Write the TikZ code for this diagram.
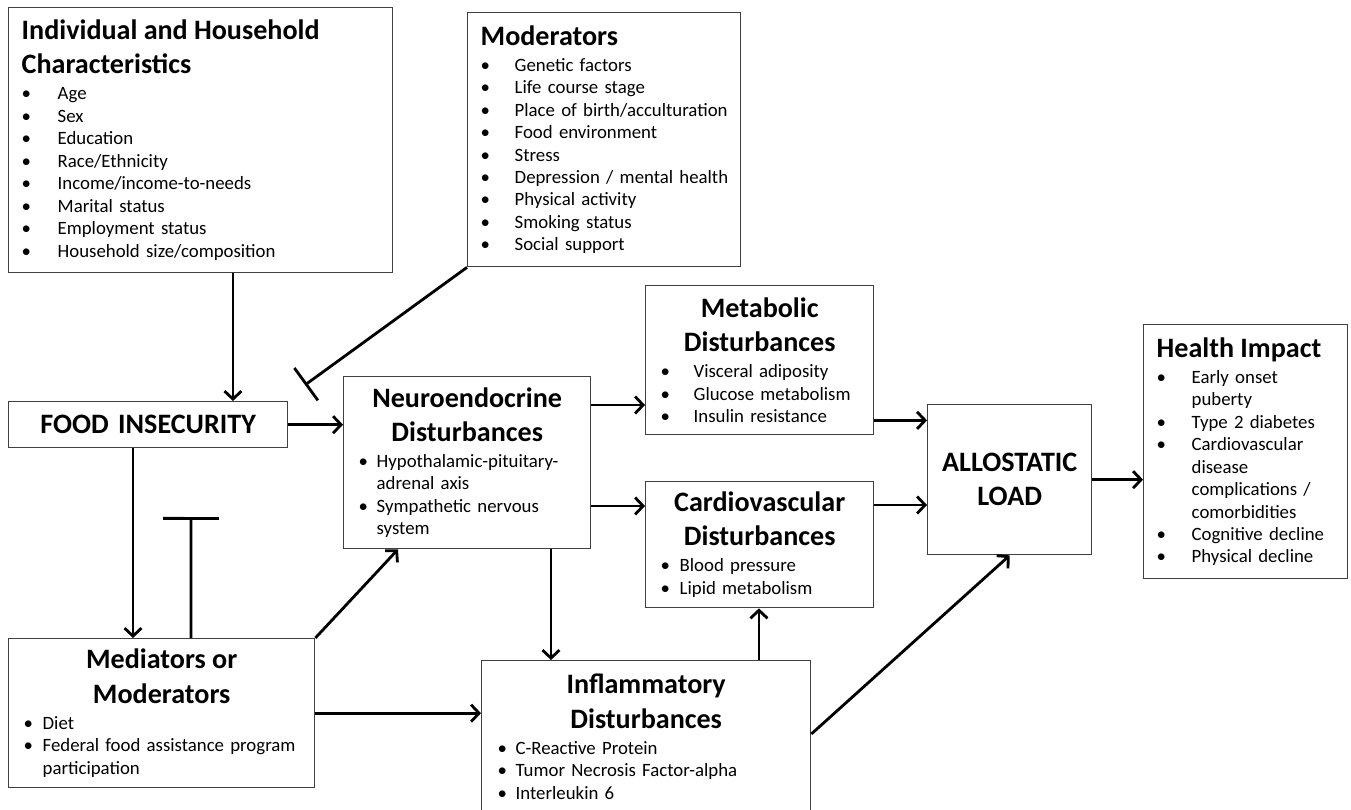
\documentclass[tikz,border=0pt]{standalone}
\usepackage{fontspec}
\setmainfont{Carlito}
\usepackage{tikz}
\usetikzlibrary{positioning}
\usetikzlibrary{arrows.meta}

\newlength{\bi}
\newcommand{\hd}{\fontsize{16}{19.5}\selectfont\bfseries}
\newcommand{\bd}{\fontsize{10.7}{12.8}\selectfont}
\newcommand{\ttl}[1]{{\hd\noindent #1\par}\vspace{2pt}}
\newcommand{\cttl}[1]{{\hd\centering #1\par}\vspace{2pt}}
\newcommand{\li}[1]{\par\noindent\makebox[\bi][l]{\textbullet}\mbox{#1}}
\newcommand{\lc}[1]{\par\noindent\hspace*{\bi}\mbox{#1}}

\begin{document}
\begin{tikzpicture}[x=0.02cm, y=-0.02cm,
	box/.style={draw=black!75, line width=0.8pt, anchor=north west, inner ysep=0pt, align=left, font=\bd},
	bul/.style={execute at begin node={\setlength{\bi}{#1}}},
	arr/.style={line width=1.6pt, -{Straight Barb[length=1.6mm,width=3.4mm]}},
	blk/.style={line width=1.6pt, -{Bar[width=#1]}}]
	\useasboundingbox (0,0) rectangle (1351,810);
	
	% Nodes
	\node[box, bul=0.72cm, inner xsep=0.26cm, text width=7.16cm, minimum width=7.68cm, minimum height=5.3cm] (indiv) at (8,7) {\ttl{Individual and Household\\Characteristics}\li{Age}\li{Sex}\li{Education}\li{Race/Ethnicity}\li{Income/income-to-needs}\li{Marital status}\li{Employment status}\li{Household size/composition}};
	\node[box, bul=0.68cm, inner xsep=0.26cm, text width=4.94cm, minimum width=5.46cm, minimum height=5.08cm] (moder) at (467,12) {\ttl{Moderators}\li{Genetic factors}\li{Life course stage}\li{Place of birth/acculturation}\li{Food environment}\li{Stress}\li{Depression / mental health}\li{Physical activity}\li{Smoking status}\li{Social support}};
	\node[box, align=center, font=\hd, inner xsep=0pt, text width=5.58cm, minimum width=5.58cm, minimum height=0.92cm] (food) at (8,401) {FOOD INSECURITY};
	\node[box, bul=0.36cm, inner xsep=0.3cm, text width=4.34cm, minimum width=4.94cm, minimum height=3.44cm] (neuro) at (343,376) {\cttl{Neuroendocrine\\Disturbances}\li{Hypothalamic-pituitary-}\lc{adrenal axis}\li{Sympathetic nervous}\lc{system}};
	\node[box, bul=0.66cm, inner xsep=0.3cm, text width=3.96cm, minimum width=4.56cm, minimum height=2.98cm] (metab) at (645,285) {\cttl{Metabolic\\Disturbances}\li{Visceral adiposity}\li{Glucose metabolism}\li{Insulin resistance}};
	\node[box, bul=0.38cm, inner xsep=0.3cm, text width=3.96cm, minimum width=4.56cm, minimum height=2.52cm] (cardio) at (645,481) {\cttl{Cardiovascular\\Disturbances}\li{Blood pressure}\li{Lipid metabolism}};
	\node[box, align=center, font=\hd, inner xsep=0pt, text width=3.28cm, minimum width=3.28cm, minimum height=3cm] (allo) at (927,404) {ALLOSTATIC\\LOAD};
	\node[box, bul=0.7cm, inner xsep=0.26cm, text width=3.56cm, minimum width=4.08cm, minimum height=5.08cm] (health) at (1143,324) {\ttl{Health Impact}\li{Early onset}\lc{puberty}\li{Type 2 diabetes}\li{Cardiovascular}\lc{disease}\lc{complications /}\lc{comorbidities}\li{Cognitive decline}\li{Physical decline}};
	\node[box, bul=0.38cm, inner xsep=0.3cm, text width=5.52cm, minimum width=6.12cm, minimum height=2.98cm] (media) at (8,638) {\cttl{Mediators or\\Moderators}\li{Diet}\li{Federal food assistance program}\lc{participation}};
	\node[box, bul=0.36cm, inner xsep=0.32cm, text width=5.94cm, minimum width=6.58cm, minimum height=3.04cm] (inflam) at (481,660) {\cttl{Inflammatory\\Disturbances}\li{C-Reactive Protein}\li{Tumor Necrosis Factor-alpha}\li{Interleukin 6}};
	\coordinate (blk1) at (305,385);
	\coordinate (blk2) at (191,517);
	
	% Arrows
	\draw[arr] ([xshift=4.5cm]indiv.south west) -- ([xshift=4.5cm]indiv.south west |- food.north);
	\draw[blk=0.8cm] (moder.south west) -- (blk1);
	\draw[arr] (food.east) -- (food.east -| neuro.west);
	\draw[arr] ([xshift=2.5cm]food.south west) -- ([xshift=2.5cm]food.south west |- media.north);
	\draw[blk=1.12cm] ([xshift=3.66cm]media.north west) -- (blk2);
	\draw[arr] (media.north east) -- ([xshift=1.1cm]neuro.south west);
	\draw[arr] (media.east) -- (media.east -| inflam.west);
	\draw[arr] ([xshift=4.16cm]neuro.south west) -- ([xshift=4.16cm]neuro.south west |- inflam.north);
	\draw[arr] ([yshift=-0.58cm]neuro.north east) -- ([yshift=-0.58cm]neuro.north east -| metab.west);
	\draw[arr] ([yshift=-2.6cm]neuro.north east) -- ([yshift=-2.6cm]neuro.north east -| cardio.west);
	\draw[arr] ([yshift=0.3cm]metab.south east) -- ([yshift=0.3cm]metab.south east -| allo.west);
	\draw[arr] ([yshift=-0.48cm]cardio.north east) -- ([yshift=-0.48cm]cardio.north east -| allo.west);
	\draw[arr] ([xshift=5.56cm]inflam.north west) -- ([xshift=5.56cm]inflam.north west |- cardio.south);
	\draw[arr] ([yshift=-1.48cm]inflam.north east) -- (allo.south);
	\draw[arr] (allo.east) -- (allo.east -| health.west);
\end{tikzpicture}
\end{document}
